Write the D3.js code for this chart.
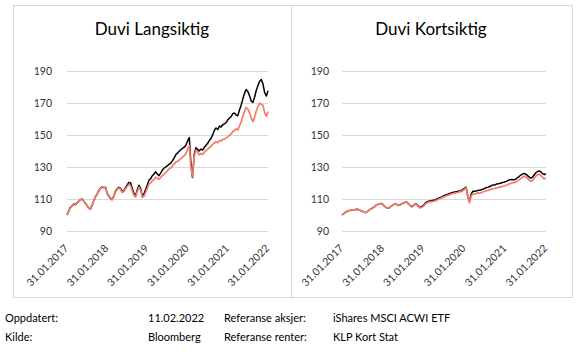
<!DOCTYPE html>
<html>
<head>
<meta charset="utf-8">
<script src="https://cdn.jsdelivr.net/npm/d3@7"></script>
<style>
body { margin: 0; background: #fff; }
svg { font-family: Lato, 'Noto Sans', sans-serif; }
</style>
</head>
<body>
<div id="chart"></div>
<script>
// Data, half-monthly
const dates = [
  '2017-01-31','2017-02-16','2017-03-01','2017-03-16','2017-04-01','2017-04-16','2017-05-01','2017-05-16','2017-06-01','2017-06-16','2017-07-01','2017-07-16','2017-08-01','2017-08-16','2017-09-01','2017-09-16','2017-10-01','2017-10-16','2017-11-01','2017-11-16','2017-12-01','2017-12-16',
  '2018-01-01','2018-01-16','2018-02-01','2018-02-16','2018-03-01','2018-03-16','2018-04-01','2018-04-16','2018-05-01','2018-05-16','2018-06-01','2018-06-16','2018-07-01','2018-07-16','2018-08-01','2018-08-16','2018-09-01','2018-09-16','2018-10-01','2018-10-16','2018-11-01','2018-11-16','2018-12-01','2018-12-16',
  '2019-01-01','2019-01-16','2019-02-01','2019-02-16','2019-03-01','2019-03-16','2019-04-01','2019-04-16','2019-05-01','2019-05-16','2019-06-01','2019-06-16','2019-07-01','2019-07-16','2019-08-01','2019-08-16','2019-09-01','2019-09-16','2019-10-01','2019-10-16','2019-11-01','2019-11-16','2019-12-01','2019-12-16',
  '2020-01-01','2020-01-16','2020-02-01','2020-02-16','2020-03-01','2020-03-16','2020-04-01','2020-04-16','2020-05-01','2020-05-16','2020-06-01','2020-06-16','2020-07-01','2020-07-16','2020-08-01','2020-08-16','2020-09-01','2020-09-16','2020-10-01','2020-10-16','2020-11-01','2020-11-16','2020-12-01','2020-12-16',
  '2021-01-01','2021-01-16','2021-02-01','2021-02-16','2021-03-01','2021-03-16','2021-04-01','2021-04-16','2021-05-01','2021-05-16','2021-06-01','2021-06-16','2021-07-01','2021-07-16','2021-08-01','2021-08-16','2021-09-01','2021-09-16','2021-10-01','2021-10-16','2021-11-01','2021-11-16','2021-12-01','2021-12-16',
  '2022-01-01','2022-01-16','2022-01-31'
];

// Duvi Langsiktig - svart linje
const lang_duvi = [
  100.0,102.6,104.6,105.6,106.9,106.3,107.6,108.4,109.5,110.1,108.7,107.3,105.9,104.3,103.7,106.1,108.9,111.3,113.2,115.2,116.7,117.7,
  117.0,117.4,113.3,111.8,110.5,109.7,111.8,114.9,116.2,117.3,116.8,114.6,115.3,117.0,118.8,120.4,120.0,116.6,113.4,112.2,116.0,118.6,116.6,111.8,
  113.4,116.0,119.0,122.0,122.6,124.4,125.6,127.0,125.6,124.6,126.2,128.0,129.2,130.0,130.8,131.6,132.4,134.0,135.6,137.6,138.8,139.8,140.8,141.6,
  142.4,143.6,146.4,148.4,133.0,123.4,138.0,142.0,141.0,140.0,141.2,140.6,142.2,143.6,144.8,146.6,148.0,150.2,153.0,154.4,153.4,155.6,155.0,156.4,
  157.0,157.8,159.6,160.6,161.4,163.2,163.8,162.6,162.0,165.4,168.6,172.4,176.0,178.4,177.2,174.6,171.2,170.4,173.6,177.8,181.0,183.6,184.6,182.0,
  176.4,174.4,177.6
];
// Duvi Langsiktig - referanse (laks)
const lang_ref = [
  100.0,102.5,104.5,105.5,106.8,106.2,107.5,108.3,109.4,110.0,108.6,107.2,105.8,104.2,103.6,106.0,108.8,111.2,113.0,115.0,116.5,117.5,
  116.8,117.2,113.0,111.5,110.2,109.4,111.5,114.5,115.8,116.8,116.2,114.0,114.6,116.2,117.8,119.0,118.2,115.0,112.2,111.2,114.8,117.4,115.5,111.0,
  111.8,114.2,117.0,119.6,120.0,121.4,122.2,123.6,123.0,122.4,123.4,124.6,125.4,126.4,127.6,128.8,129.4,130.6,131.8,133.0,133.6,134.4,135.2,136.2,
  137.0,138.2,141.0,143.4,130.0,124.0,136.5,140.6,139.4,137.6,138.4,137.8,139.2,140.2,141.0,142.2,142.8,144.2,145.0,145.8,145.2,146.6,146.2,147.2,
  147.6,148.0,149.0,150.0,150.6,152.0,152.8,153.8,153.2,155.6,158.0,161.5,164.6,167.2,166.2,164.0,160.6,158.4,161.0,164.8,167.8,169.8,169.2,168.6,
  163.8,161.8,164.6
];
// Duvi Kortsiktig - svart linje
const kort_duvi = [
  100.0,100.8,101.6,102.2,102.6,102.9,103.0,103.2,103.4,103.6,103.3,102.8,102.4,101.8,101.5,102.2,103.0,103.8,104.4,105.0,106.0,106.6,
  106.8,107.3,106.6,105.4,104.8,104.2,104.5,105.6,106.2,106.8,106.9,106.0,106.2,106.8,107.4,107.8,108.3,107.1,106.1,105.2,105.8,106.9,106.7,105.5,
  104.8,105.3,106.2,107.4,108.2,108.6,108.8,109.0,109.2,109.4,110.0,110.6,111.0,111.5,112.1,112.5,112.9,113.3,113.7,114.1,114.3,114.5,114.7,115.0,
  115.2,115.8,116.6,117.4,112.0,108.4,113.0,114.8,114.8,115.0,115.4,115.4,115.8,116.2,116.6,117.2,117.4,117.8,118.4,118.8,118.8,119.4,119.6,119.8,
  120.2,120.4,120.8,121.2,121.8,122.0,122.2,122.0,122.2,123.0,123.8,124.8,125.4,126.0,125.6,124.8,123.8,123.0,123.6,125.0,126.4,127.2,127.6,127.0,
  125.8,125.2,125.8
];
// Duvi Kortsiktig - referanse (laks)
const kort_ref = [
  100.0,100.8,101.6,102.2,102.6,102.9,103.0,103.2,103.4,103.6,103.3,102.8,102.4,101.8,101.5,102.2,103.0,103.8,104.4,105.0,106.0,106.6,
  106.8,107.3,106.6,105.4,104.8,104.2,104.5,105.6,106.2,106.8,106.9,106.0,106.2,106.8,107.4,107.8,108.2,107.0,106.0,105.0,105.6,106.6,106.4,105.2,
  104.4,104.8,105.6,106.8,107.6,108.0,108.2,108.4,108.6,108.8,109.4,110.0,110.4,110.8,111.4,111.8,112.2,112.6,113.0,113.4,113.6,113.8,114.0,114.4,
  114.6,115.2,116.0,117.0,112.0,107.6,111.6,113.4,113.2,113.4,113.8,113.6,114.0,114.4,114.8,115.2,115.4,115.8,116.2,116.4,116.6,117.0,117.2,117.4,
  117.8,118.0,118.4,118.8,119.2,119.6,120.0,120.2,120.4,121.0,121.8,122.6,123.4,124.2,124.0,123.0,122.0,121.0,121.6,123.0,124.4,125.2,125.4,124.8,
  123.4,122.6,123.2
];

const y_ticks = [90, 110, 130, 150, 170, 190];
const x_ticks = ['2017-01-31','2018-01-31','2019-01-31','2020-01-31','2021-01-31','2022-01-31'];

const footer_rows = [
  ['Oppdatert:', '11.02.2022', 'Referanse aksjer:', 'iShares MSCI ACWI ETF'],
  ['Kilde:', 'Bloomberg', 'Referanse renter:', 'KLP Kort Stat']
];

const parseDate = d3.timeParse('%Y-%m-%d');
const fmt = d3.timeFormat('%d.%m.%Y');

const svg = d3.select('#chart').append('svg')
  .attr('width', 587)
  .attr('height', 362);

function draw_panel(cfg){
  const g = svg.append('g');
  // ramme
  g.append('rect')
    .attr('x', cfg.box[0] + 0.5).attr('y', 5.5)
    .attr('width', cfg.box[1] - cfg.box[0]).attr('height', 292)
    .style('fill', 'none').style('stroke', '#d9d9d9');

  const x_scale = d3.scaleTime()
    .domain([parseDate('2017-01-31'), parseDate('2022-01-31')])
    .range(cfg.range);
  const y_scale = d3.scaleLinear().domain([90, 190]).range([231, 71]);

  // y akse + grid
  const y_axis = d3.axisLeft(y_scale)
    .tickValues(y_ticks)
    .tickSize(-(cfg.range[1] - cfg.range[0]))
    .tickPadding(cfg.range[0] - cfg.label_right)
    .tickFormat(d3.format('d'));
  const ya = g.append('g')
    .attr('transform', `translate(${cfg.range[0]},0)`)
    .call(y_axis);
  ya.select('.domain').remove();
  ya.selectAll('.tick line').style('stroke', '#d9d9d9').style('stroke-width', 1);
  ya.selectAll('.tick text')
    .style('font-size', '10.5px').style('fill', '#333')
    .style('font-family', 'Lato, sans-serif');

  // x akse labels
  const xa = g.append('g');
  xa.selectAll('text')
    .data(x_ticks.map(parseDate))
    .enter()
    .append('text')
    .attr('transform', d => `translate(${x_scale(d) + 2},249) rotate(-45)`)
    .attr('text-anchor', 'end')
    .style('font-size', '10.5px')
    .style('fill', '#333')
    .text(d => fmt(d));

  const line_generator = d3.line()
    .x((d, i) => x_scale(parseDate(dates[i])))
    .y(d => y_scale(d));

  g.append('path')
    .attr('d', line_generator(cfg.duvi))
    .style('fill', 'none').style('stroke', '#000').style('stroke-width', 1.5)
    .style('stroke-linejoin', 'round');
  g.append('path')
    .attr('d', line_generator(cfg.ref))
    .style('fill', 'none').style('stroke', '#f67b6b').style('stroke-width', 1.7)
    .style('stroke-linejoin', 'round');

  // tittel
  g.append('text')
    .attr('x', cfg.title_x).attr('y', 35)
    .attr('text-anchor', 'middle')
    .style('font-size', '17px').style('fill', '#000')
    .text(cfg.title);
}

draw_panel({title: 'Duvi Langsiktig', box: [13, 291], range: [67, 268], label_right: 52, title_x: 152, duvi: lang_duvi, ref: lang_ref});
draw_panel({title: 'Duvi Kortsiktig', box: [291, 572], range: [342, 546], label_right: 329, title_x: 431, duvi: kort_duvi, ref: kort_ref});

// fotnote
const col_x = [5, 148, 224, 333];
footer_rows.forEach((row, r) => {
  row.forEach((txt, c) => {
    svg.append('text')
      .attr('x', col_x[c]).attr('y', 322 + r * 19)
      .style('font-size', '11px').style('fill', '#000')
      .text(txt);
  });
});
</script>
</body>
</html>
